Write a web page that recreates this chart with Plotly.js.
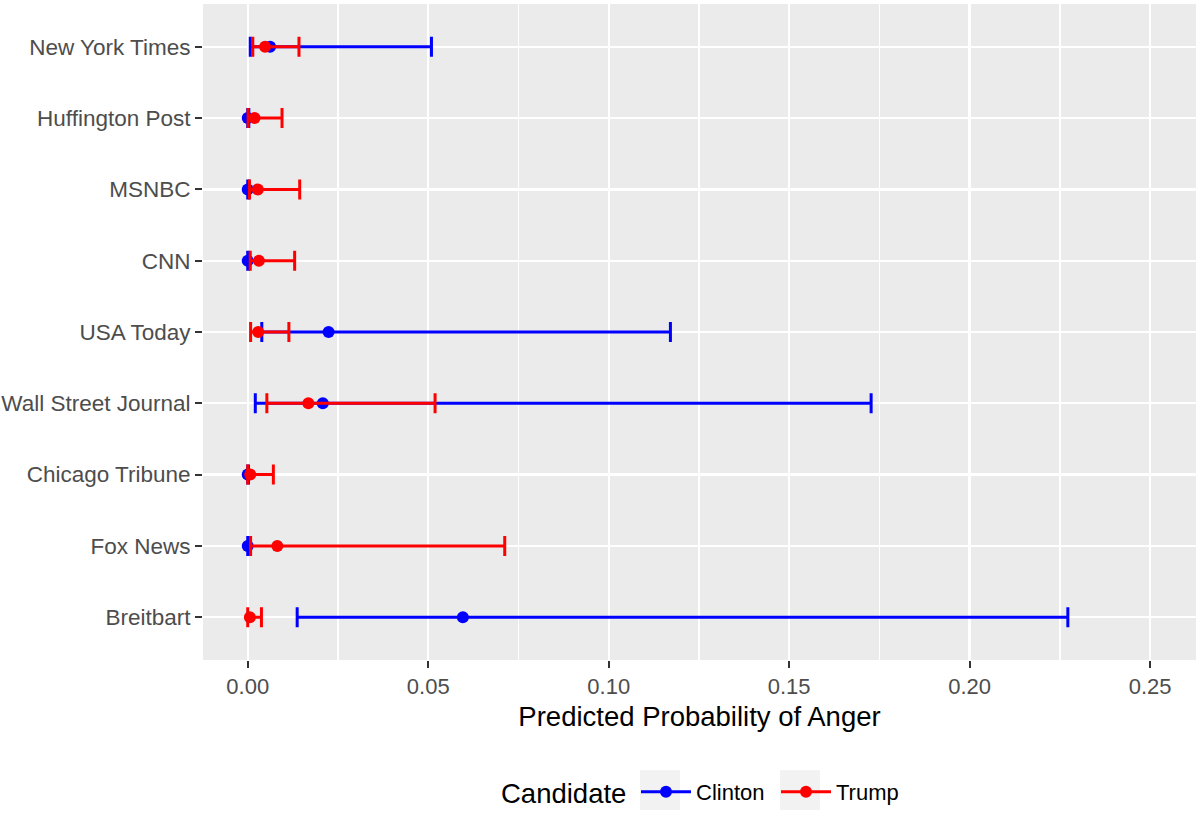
<!DOCTYPE html>
<html>
<head>
<meta charset="utf-8">
<script src="https://cdn.plot.ly/plotly-3.0.1.min.js"></script>
<style>html,body{margin:0;padding:0;background:#fff;}#chart{width:1196px;height:813px;}</style>
</head>
<body>
<div id="chart"></div>
<script>
// Outlets, listed top to bottom as in the chart
const outlets = ["New York Times", "Huffington Post", "MSNBC", "CNN", "USA Today",
                 "Wall Street Journal", "Chicago Tribune", "Fox News", "Breitbart"];

// Clinton: estimate, lower bound, upper bound
const clintonEst  = [0.0062, 0.0000, 0.0000, 0.0000, 0.0224, 0.0208, 0.0000, 0.0000, 0.0596];
const clintonLow  = [0.0007, 0.0000, 0.0000, 0.0000, 0.0039, 0.0021, 0.0000, 0.0000, 0.0137];
const clintonHigh = [0.0509, 0.0003, 0.0003, 0.0002, 0.1171, 0.1727, 0.0002, 0.0002, 0.2272];

// Trump: estimate, lower bound, upper bound
const trumpEst  = [0.0048, 0.0019, 0.0028, 0.0031, 0.0029, 0.0168, 0.0007, 0.0082, 0.0006];
const trumpLow  = [0.0014, 0.0001, 0.0005, 0.0007, 0.0008, 0.0053, 0.0000, 0.0008, 0.0000];
const trumpHigh = [0.0142, 0.0095, 0.0144, 0.0130, 0.0114, 0.0519, 0.0071, 0.0712, 0.0038];

const tickVals = [0, 0.05, 0.10, 0.15, 0.20, 0.25];
const tickText = ["0.00", "0.05", "0.10", "0.15", "0.20", "0.25"];

const FONT = "Liberation Sans, Arial, sans-serif";

function seriesTrace(name, color, est, lo, hi) {
  return {
    type: "scatter", mode: "markers", name: name, showlegend: false,
    x: est, y: outlets,
    marker: {color: color, size: 12},
    error_x: {
      type: "data", symmetric: false,
      array: hi.map((h, i) => h - est[i]),
      arrayminus: lo.map((l, i) => est[i] - l),
      color: color, thickness: 3, width: 10
    },
    hoverinfo: "x+y+name"
  };
}
function legendTrace(name, color) {
  return {
    type: "scatter", mode: "lines+markers", name: name,
    x: [null], y: [null],
    line: {color: color, width: 3},
    marker: {color: color, size: 12}
  };
}

const data = [
  seriesTrace("Clinton", "#0000ff", clintonEst, clintonLow, clintonHigh),
  seriesTrace("Trump", "#ff0000", trumpEst, trumpLow, trumpHigh),
  legendTrace("Clinton", "#0000ff"),
  legendTrace("Trump", "#ff0000")
];

function px2x(p) { return (p - 203) / 993; }
function px2y(p) { return (664 - p) / 660; }

const layout = {
  width: 1196, height: 813,
  margin: {l: 203, r: 0, t: 4, b: 149},
  paper_bgcolor: "#ffffff",
  plot_bgcolor: "#ebebeb",
  font: {family: FONT, color: "#4d4d4d"},
  showlegend: true,
  xaxis: {
    range: [-0.01239, 0.2627],
    tickvals: tickVals, ticktext: tickText,
    showgrid: true, gridcolor: "#ffffff", gridwidth: 2.4,
    minor: {dtick: 0.025, tick0: 0, showgrid: true, gridcolor: "#ffffff", gridwidth: 1.2},
    zeroline: false, showline: false,
    ticks: "outside", ticklen: 7, tickwidth: 2, tickcolor: "#333333",
    tickfont: {size: 22, color: "#4d4d4d", family: FONT},
    title: {text: "Predicted Probability of Anger", font: {size: 27.5, color: "#000000", family: FONT}, standoff: 8}
  },
  yaxis: {
    type: "category",
    categoryorder: "array",
    categoryarray: outlets.slice().reverse(),
    range: [-0.6, 8.6],
    showgrid: true, gridcolor: "#ffffff", gridwidth: 2.4,
    zeroline: false, showline: false,
    ticks: "outside", ticklen: 7, tickwidth: 2, tickcolor: "#333333",
    ticklabelstandoff: 0,
    tickfont: {size: 22.5, color: "#4d4d4d", family: FONT}
  },
  legend: {
    orientation: "h",
    x: px2x(636), xanchor: "left",
    y: px2y(797), yanchor: "middle",
    bgcolor: "rgba(0,0,0,0)",
    font: {size: 22, color: "#000000", family: FONT},
    itemwidth: 50,
    entrywidth: 75, entrywidthmode: "pixels"
  },
  annotations: [
    {text: "Candidate", xref: "paper", yref: "paper", x: px2x(499), y: px2y(798),
     xanchor: "left", yanchor: "middle", showarrow: false,
     font: {size: 27.5, color: "#000000", family: FONT}}
  ],
  shapes: [
    {type: "rect", xref: "paper", yref: "paper", layer: "below",
     x0: px2x(640), x1: px2x(680), y0: px2y(815), y1: px2y(775),
     fillcolor: "#f2f2f2", line: {width: 0}},
    {type: "rect", xref: "paper", yref: "paper", layer: "below",
     x0: px2x(780), x1: px2x(820), y0: px2y(815), y1: px2y(775),
     fillcolor: "#f2f2f2", line: {width: 0}}
  ]
};

Plotly.newPlot("chart", data, layout, {displayModeBar: false, staticPlot: true});
</script>
</body>
</html>
